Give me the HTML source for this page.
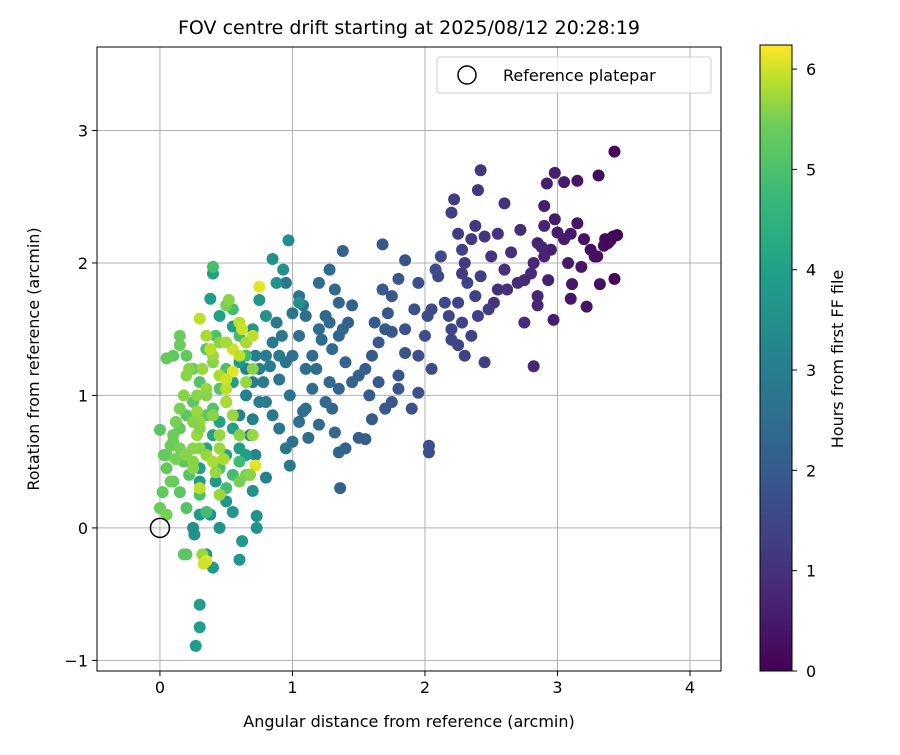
<!DOCTYPE html>
<html><head><meta charset="utf-8"><style>
body{margin:0;background:#fff;}
svg text{font-family:"DejaVu Sans","Liberation Sans",sans-serif;fill:#000;}
</style></head><body>
<svg id="chart" width="900" height="750">
<defs>
<linearGradient id="vir" x1="0" y1="1" x2="0" y2="0">
<stop offset="0" stop-color="#440154"/><stop offset="0.125" stop-color="#482878"/><stop offset="0.25" stop-color="#3e4989"/><stop offset="0.375" stop-color="#31688e"/><stop offset="0.5" stop-color="#26828e"/><stop offset="0.625" stop-color="#1f9e89"/><stop offset="0.75" stop-color="#35b779"/><stop offset="0.875" stop-color="#6ece58"/><stop offset="0.94" stop-color="#b5de2b"/><stop offset="1" stop-color="#fde725"/>
</linearGradient>
</defs>
<text x="409" y="34" font-size="19" text-anchor="middle">FOV centre drift starting at 2025/08/12 20:28:19</text>
<g id="grid"></g>
<g id="points"></g>
<rect x="97" y="47" width="624" height="624" fill="none" stroke="#000" stroke-width="1"/>
<g id="axes"></g>
<text x="409" y="727" font-size="16" text-anchor="middle">Angular distance from reference (arcmin)</text>
<text x="39" y="359" font-size="16" text-anchor="middle" transform="rotate(-90 39 359)">Rotation from reference (arcmin)</text>
<g>
<rect x="437" y="57" width="274" height="36" rx="3" fill="#fff" fill-opacity="0.8" stroke="#ccc"/>
<circle cx="467" cy="75" r="9" fill="none" stroke="#000" stroke-width="1.5"/>
<text x="503" y="81" font-size="16">Reference platepar</text>
</g>
<rect x="760" y="45" width="32" height="626" fill="url(#vir)" stroke="#000" stroke-width="1"/>
<g id="cbar"></g>
<text x="843" y="359" font-size="16" text-anchor="middle" transform="rotate(-90 843 359)">Hours from first FF file</text>
</svg>
<script>
const xTicks=[0,1,2,3,4];
const yTicks=[-1,0,1,2,3];
const cTicks=[0,1,2,3,4,5,6];
const hMax=6.24;
const pts=[
[3.43,2.84,0.1],[3.31,2.66,0.2],[3.45,2.21,0.05],[3.42,2.2,0.1],[3.38,2.15,0.15],[3.35,2.13,0.2],[3.3,2.05,0.25],[3.32,1.84,0.3],[3.43,1.88,0.1],[3.2,2.18,0.35],[3.15,2.3,0.4],[3.25,2.1,0.3],[3.1,2.22,0.45],[3.05,2.61,0.5],[3.15,2.62,0.4],[3.11,1.84,0.45],[3.0,2.23,0.55],[2.98,2.33,0.55],[2.95,2.1,0.6],[3.22,1.67,0.35],[3.1,1.73,0.45],[2.9,2.43,0.6],[2.92,2.6,0.6],[2.98,2.68,0.55],[3.05,2.18,0.5],[2.9,2.05,0.65],[2.85,2.15,0.7],[3.08,2.0,0.5],[3.18,1.97,0.4],[2.93,1.87,0.6],[2.97,1.57,0.6],[3.28,2.05,0.3],[3.36,2.18,0.2],[3.4,2.17,0.15],
[2.9,2.28,0.7],[2.88,2.12,0.75],[2.82,2.0,0.8],[2.8,1.92,0.8],[2.85,1.75,0.75],[2.82,1.22,0.8],[2.75,1.87,0.85],[2.72,2.25,0.9],[2.7,1.85,0.9],[2.65,2.08,0.95],[2.6,2.45,1.0],[2.55,1.8,1.0],[2.5,2.05,1.05],[2.45,2.2,1.1],[2.42,2.7,1.1],[2.4,2.55,1.1],[2.38,2.28,1.15],[2.35,2.18,1.2],[2.3,2.0,1.2],[2.28,1.92,1.2],[2.25,2.22,1.25],[2.22,2.48,1.25],[2.2,2.38,1.3],[2.55,2.22,1.0],[2.62,1.8,0.95],[2.85,1.68,0.75],[2.75,1.55,0.85],[2.6,1.95,0.95],[2.52,1.7,1.05],
[2.48,1.65,1.3],[2.4,1.6,1.35],[2.35,1.45,1.4],[2.3,1.3,1.4],[2.25,1.38,1.45],[2.45,1.25,1.35],[2.2,1.5,1.5],[2.18,1.6,1.5],[2.15,1.7,1.55],[2.1,1.9,1.55],[2.08,1.95,1.6],[2.12,2.05,1.55],[2.05,1.65,1.6],[2.02,1.6,1.65],[2.0,1.45,1.65],[2.05,1.2,1.6],[2.03,0.62,1.7],[2.03,0.57,1.7],[1.95,1.02,1.75],[1.9,0.9,1.75],[1.95,1.3,1.7],[1.92,1.65,1.75],[1.95,1.85,1.7],[2.28,2.1,1.4],[2.32,1.85,1.4],[2.25,1.7,1.45],[2.38,1.75,1.4],[2.42,1.9,1.35],[2.28,1.55,1.45],[2.2,1.42,1.5],
[1.85,2.02,1.8],[1.8,1.88,1.85],[1.75,1.75,1.9],[1.72,1.62,1.9],[1.7,1.5,1.95],[1.65,1.4,2.0],[1.6,1.3,2.05],[1.55,1.2,2.1],[1.5,1.15,2.15],[1.45,1.1,2.2],[1.4,1.25,2.2],[1.35,1.05,2.25],[1.3,0.9,2.3],[1.4,0.6,2.2],[1.35,0.57,2.25],[1.36,0.3,2.2],[1.5,0.68,2.1],[1.55,0.67,2.1],[1.6,0.82,2.05],[1.7,0.9,1.95],[1.75,0.95,1.9],[1.8,1.05,1.85],[1.85,1.32,1.8],[1.85,1.5,1.8],[1.68,2.14,1.95],[1.68,1.8,1.95],[1.62,1.55,2.0],[1.58,1.0,2.05],[1.65,1.1,2.0],[1.75,1.48,1.9],[1.8,1.15,1.85],[1.38,2.09,2.2],[1.42,1.55,2.2],[1.45,1.68,2.15],
[1.3,1.35,2.35],[1.25,1.6,2.4],[1.2,1.85,2.45],[1.28,1.95,2.4],[1.32,1.8,2.35],[1.35,1.7,2.3],[1.38,1.5,2.3],[1.22,1.42,2.45],[1.18,1.2,2.5],[1.15,1.05,2.5],[1.1,0.9,2.55],[1.2,0.78,2.45],[1.25,0.95,2.4],[1.28,1.1,2.4],[1.32,0.72,2.35],[1.1,1.6,2.55],[1.05,1.45,2.6],[1.0,1.3,2.65],[0.95,1.25,2.7],[0.9,1.12,2.75],[0.98,1.0,2.7],[1.05,0.8,2.6],[1.0,0.65,2.65],[1.08,0.88,2.6],[1.12,0.68,2.55],[1.1,1.2,2.55],[1.15,1.3,2.5],[1.2,1.5,2.45],[1.35,1.45,2.3],[1.28,1.55,2.4],
[0.85,1.4,2.85],[0.8,1.3,2.9],[0.75,1.2,2.95],[0.7,1.1,3.0],[0.65,1.0,3.05],[0.8,0.95,2.9],[0.85,0.85,2.85],[0.9,0.75,2.8],[0.95,0.6,2.8],[0.98,0.47,2.8],[0.88,1.55,2.85],[0.92,1.45,2.8],[1.0,1.62,2.75],[1.05,1.75,2.7],[1.08,1.68,2.7],[0.95,1.85,2.8],[0.9,1.3,2.85],[0.75,0.95,3.0],[0.7,0.82,3.05],[0.6,0.85,3.1],[0.65,1.2,3.1],[0.72,1.3,3.0],[0.78,1.1,2.95],[0.83,1.22,2.9],[0.68,0.7,3.1],[0.72,0.55,3.2],[0.8,0.38,3.1],
[0.85,2.03,3.5],[0.97,2.17,3.4],[0.93,1.95,3.5],[0.88,1.85,3.6],[1.05,1.7,3.5],[0.8,1.6,3.6],[0.75,1.72,3.7],[0.7,1.5,3.7],[0.65,1.4,3.8],[0.6,1.25,3.8],[0.55,1.1,3.9],[0.5,0.95,3.9],[0.45,0.8,4.0],[0.4,0.7,4.0],[0.35,0.6,4.0],[0.3,0.45,3.9],[0.3,0.35,3.8],[0.3,0.1,3.7],[0.35,-0.2,3.8],[0.4,-0.3,3.8],[0.3,-0.58,3.9],[0.3,-0.75,3.9],[0.27,-0.89,3.9],[0.6,-0.24,3.7],[0.62,-0.1,3.8],[0.73,0.0,3.6],[0.73,0.09,3.6],[0.55,0.12,3.7],[0.45,0.0,3.6],[0.5,0.2,3.7],[0.42,0.35,3.8],[0.38,0.1,3.6],[0.25,0.0,3.5],[0.26,-0.05,3.5],[0.7,0.28,3.6],[0.38,1.73,3.9],[0.4,1.92,4.0],[0.45,1.6,4.0],[0.55,1.52,3.9],[0.6,0.6,3.9],[0.55,0.75,4.0],[0.65,0.55,3.9],[0.5,0.55,4.0],
[0.4,1.97,4.9],[0.42,1.45,5.0],[0.35,1.35,5.1],[0.3,1.1,5.1],[0.25,0.95,5.2],[0.2,0.85,5.2],[0.15,0.75,5.3],[0.1,0.65,5.3],[0.05,0.55,5.4],[0.18,0.5,5.2],[0.22,0.4,5.1],[0.3,0.25,5.0],[0.35,0.12,4.9],[0.2,0.15,5.1],[0.15,0.27,5.2],[0.1,0.35,5.3],[0.45,0.45,5.0],[0.5,0.3,4.9],[0.55,0.4,4.9],[0.6,0.5,4.8],[0.5,1.2,5.0],[0.45,1.05,5.1],[0.4,0.9,5.1],[0.35,0.85,5.2],[0.25,1.2,5.3],[0.2,1.3,5.3],[0.55,1.65,4.9],[0.6,1.45,4.9],[0.65,1.3,4.8],[0.18,-0.2,5.2],[0.2,-0.2,5.2],[0.32,-0.2,5.7],
[0.0,0.74,5.2],[0.03,0.55,5.3],[0.05,0.45,5.3],[0.08,0.62,5.4],[0.1,0.7,5.4],[0.12,0.52,5.5],[0.0,0.15,5.4],[0.05,0.1,5.5],[0.02,0.27,5.3],[0.08,0.35,5.4],[0.12,0.8,5.5],[0.15,0.9,5.5],[0.18,1.0,5.6],[0.2,1.15,5.6],[0.1,1.3,5.3],[0.05,1.28,5.3],[0.15,1.45,5.4],[0.22,1.2,5.6],[0.25,0.6,5.6],[0.28,0.7,5.7],[0.15,0.6,5.5],[0.2,0.55,5.6],[0.25,0.45,5.6],[0.3,0.8,5.7],[0.35,1.05,5.7],[0.4,1.25,5.6],[0.45,1.4,5.6],[0.5,1.68,5.5],[0.52,1.72,5.6],[0.6,0.7,5.6],[0.65,0.4,5.5],[0.15,1.38,5.4],[0.28,0.88,5.7],
[0.3,1.58,5.9],[0.35,1.45,5.8],[0.4,1.3,5.7],[0.45,1.15,5.8],[0.5,1.05,5.9],[0.55,1.35,6.0],[0.6,1.55,5.9],[0.65,1.4,5.8],[0.7,1.45,5.9],[0.75,1.82,6.1],[0.55,1.18,6.1],[0.5,1.12,6.0],[0.35,1.0,5.6],[0.4,0.85,5.6],[0.45,0.7,5.7],[0.3,0.75,5.6],[0.35,0.55,5.7],[0.25,0.5,5.6],[0.3,0.6,5.6],[0.4,0.5,5.8],[0.45,0.6,5.7],[0.5,0.95,5.8],[0.55,0.85,5.7],[0.6,1.3,5.9],[0.65,1.1,5.7],[0.7,0.7,5.7],[0.72,0.47,6.1],[0.68,0.4,5.6],[0.6,0.35,5.5],[0.45,0.25,5.7],[0.35,-0.25,6.1],[0.33,-0.27,6.0],[0.3,0.3,5.9],[0.25,0.8,5.6],[0.28,1.0,5.6],[0.32,1.2,5.7],[0.38,1.35,5.9],[0.5,1.4,5.8],[0.62,1.5,6.0],[0.7,1.2,5.6],[0.48,0.52,5.8],[0.42,0.42,5.7]
];
const NS='http://www.w3.org/2000/svg';
const X0=97,X1=721,Y0=47,Y1=671,xmin=-0.475,xmax=4.234,ymin=-1.08,ymax=3.63;
function sx(v){return X0+(v-xmin)/(xmax-xmin)*(X1-X0);}
function sy(v){return Y1-(v-ymin)/(ymax-ymin)*(Y1-Y0);}
function cy(h){return 671-h/hMax*626;}
const stops=[[68,1,84],[72,40,120],[62,73,137],[49,104,142],[38,130,142],[31,158,137],[53,183,121],[110,206,88],[181,222,43],[253,231,37]];
const so=[0,.125,.25,.375,.5,.625,.75,.875,.94,1];
function vir(t){t=Math.max(0,Math.min(1,t));for(let i=1;i<so.length;i++){if(t<=so[i]){const f=(t-so[i-1])/(so[i]-so[i-1]);const a=stops[i-1],b=stops[i];return 'rgb('+a.map((v,k)=>Math.round(v+(b[k]-v)*f)).join(',')+')';}}return 'rgb(253,231,37)';}
function mk(tag,at){const e=document.createElementNS(NS,tag);for(const k in at)e.setAttribute(k,at[k]);return e;}
const grid=document.getElementById('grid'),axes=document.getElementById('axes');
xTicks.forEach(t=>{const x=sx(t);
const g=mk('line',{x1:x,x2:x,y1:Y0,y2:Y1,stroke:'#b0b0b0','stroke-width':1});

grid.appendChild(g);
const tk=mk('line',{x1:x,x2:x,y1:Y1,y2:Y1+5,stroke:'#000'});

axes.appendChild(tk);
const tx=mk('text',{x:x,y:Y1+22,'font-size':16,'text-anchor':'middle'});tx.textContent=t;

axes.appendChild(tx);});
yTicks.forEach(t=>{const y=sy(t);
const g=mk('line',{x1:X0,x2:X1,y1:y,y2:y,stroke:'#b0b0b0','stroke-width':1});

grid.appendChild(g);
const tk=mk('line',{x1:X0-5,x2:X0,y1:y,y2:y,stroke:'#000'});

axes.appendChild(tk);
const tx=mk('text',{x:X0-9,y:y+6,'font-size':16,'text-anchor':'end'});tx.textContent=t<0?'\u2212'+(-t):t;

axes.appendChild(tx);});
const pg=document.getElementById('points');
pts.forEach(p=>{const c=mk('circle',{cx:sx(p[0]),cy:sy(p[1]),r:6,fill:vir(p[2]/hMax)});

pg.appendChild(c);});
const ref=mk('circle',{cx:sx(0),cy:sy(0),r:9.5,fill:'none',stroke:'#000','stroke-width':1.5});

pg.appendChild(ref);
const cb=document.getElementById('cbar');
cTicks.forEach(t=>{const y=cy(t);
const tk=mk('line',{x1:792,x2:797,y1:y,y2:y,stroke:'#000'});

cb.appendChild(tk);
const tx=mk('text',{x:806,y:y+6,'font-size':16});tx.textContent=t;

cb.appendChild(tx);});
</script>
</body></html>
